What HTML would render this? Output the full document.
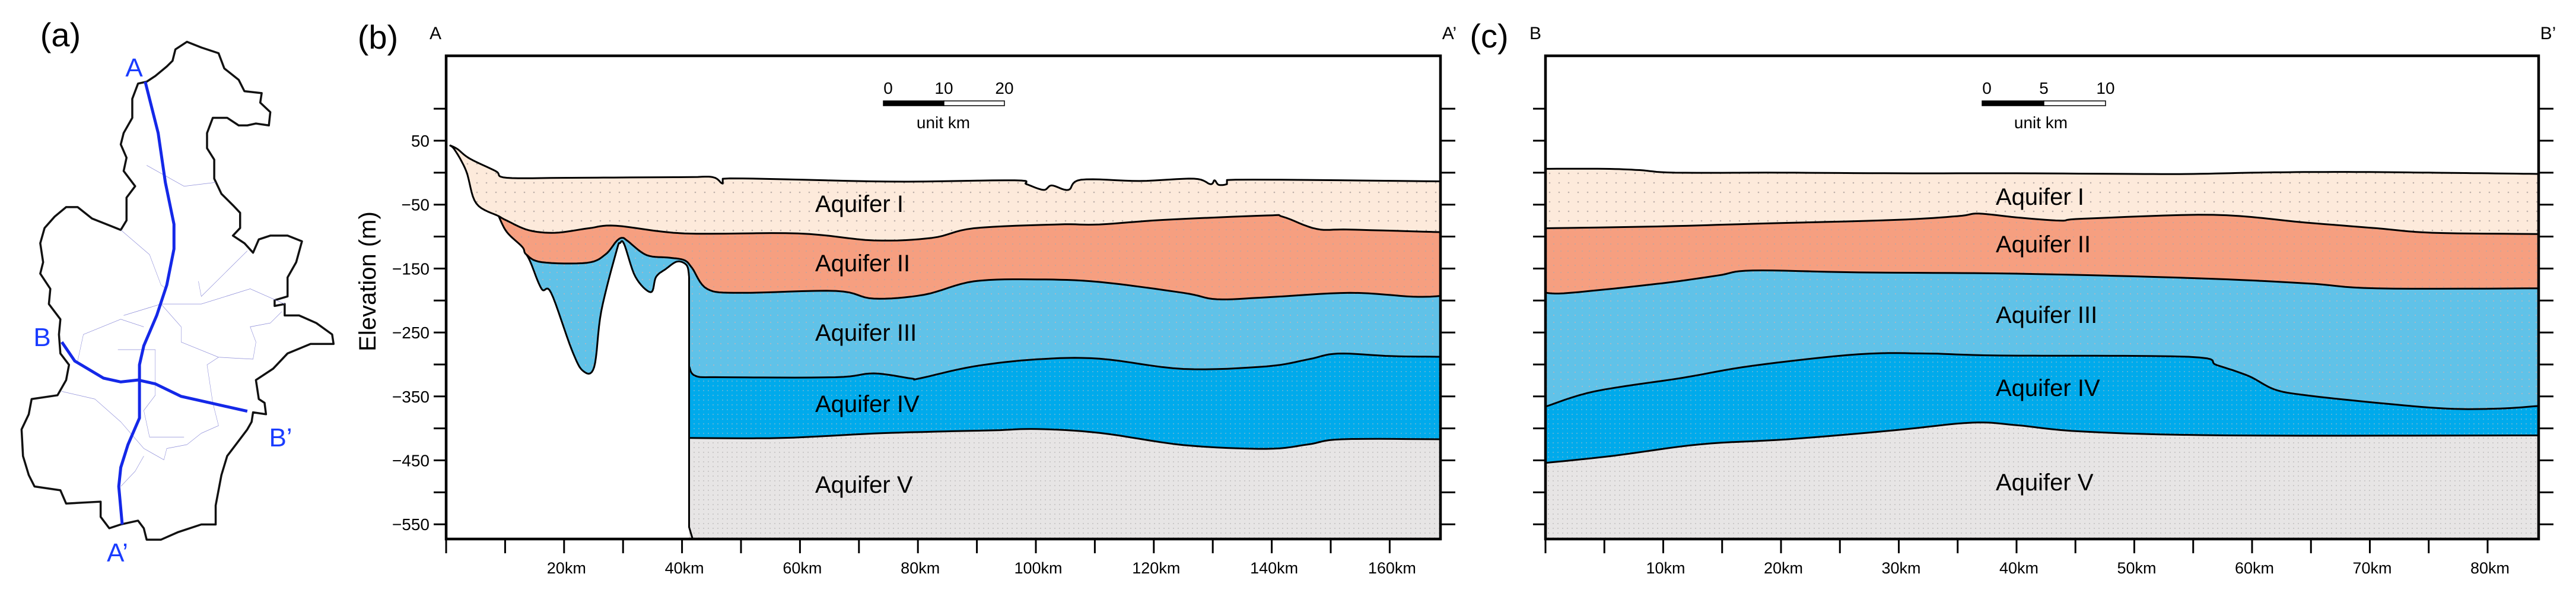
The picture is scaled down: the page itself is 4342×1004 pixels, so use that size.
<!DOCTYPE html>
<html><head><meta charset="utf-8"><style>
html,body{margin:0;padding:0;background:#fff;}
svg{display:block;font-family:"Liberation Sans",Arial,sans-serif;}
</style></head><body>
<svg id="fig" width="4342" height="1004" viewBox="0 0 4342 1004" xmlns="http://www.w3.org/2000/svg">
<defs>
<pattern id="d1" width="16" height="16" patternUnits="userSpaceOnUse"><rect width="16" height="16" fill="#fdeadb"/><circle cx="4" cy="4" r="1.3" fill="#bdb0aa"/></pattern>
<pattern id="d2" width="12" height="12" patternUnits="userSpaceOnUse"><rect width="12" height="12" fill="#f69f80"/><circle cx="3" cy="3" r="1.1" fill="#c9a59a"/></pattern>
<pattern id="d3" width="12" height="12" patternUnits="userSpaceOnUse"><rect width="12" height="12" fill="#60c2e8"/><circle cx="3" cy="3" r="1.1" fill="#a9b8c4"/></pattern>
<pattern id="d4" width="8" height="8" patternUnits="userSpaceOnUse"><rect width="8" height="8" fill="#00aaeb"/><circle cx="2" cy="2" r="0.9" fill="#8cbcd0"/></pattern>
<pattern id="d5" width="8" height="8" patternUnits="userSpaceOnUse"><rect width="8" height="8" fill="#e7e5e5"/><circle cx="2" cy="2" r="1" fill="#c2c0c0"/></pattern>
</defs>

<!-- Panel (a) map -->
<g>
<text x="102" y="78" font-size="56" text-anchor="middle">(a)</text>
<g transform="scale(0.4847,0.6402)">
<path fill="none" stroke="#111" stroke-width="3.5" vector-effect="non-scaling-stroke" stroke-linejoin="round"
d="M610,130 L650,110 L700,125 L760,140 L780,180 L830,210 L850,240 L910,245 L905,270 L940,295 L935,330 L890,325 L860,330 L830,330 L790,310 L740,310 L720,350 L720,390 L745,420 L745,470 L770,510 L810,540 L835,560 L835,600 L810,620 L850,640 L880,665 L900,630 L940,620 L1000,620 L1050,635 L1030,690 L1000,730 L1000,780 L955,790 L955,805 L990,800 L990,830 L1040,830 L1100,850 L1155,880 L1160,905 L1080,905 L1000,930 L950,970 L890,1000 L900,1050 L920,1060 L925,1090 L880,1085 L875,1110 L860,1130 L830,1160 L790,1200 L770,1250 L750,1330 L750,1380 L700,1380 L620,1400 L560,1420 L510,1420 L500,1390 L480,1370 L420,1380 L380,1390 L350,1360 L350,1320 L230,1325 L210,1290 L120,1280 L100,1250 L80,1200 L75,1130 L100,1090 L110,1050 L200,1040 L230,1000 L240,960 L210,930 L205,880 L210,840 L170,800 L175,760 L140,720 L150,690 L140,640 L155,600 L190,570 L230,545 L270,545 L320,575 L420,605 L440,580 L440,520 L470,490 L430,450 L440,415 L420,380 L430,350 L460,310 L460,260 L480,220 L510,215 L540,200 L580,175 L600,160 Z"/>
<g fill="none" stroke="#8c8cd8" stroke-width="1.2" vector-effect="non-scaling-stroke">
<path d="M420,605 L520,670 L560,750 L578,760"/>
<path d="M510,435 L640,490 L750,480"/>
<path d="M690,740 L700,780 L860,660"/>
<path d="M430,830 L560,800 L700,800 L870,760 L990,800"/>
<path d="M560,800 L630,860 L630,900 L760,940 L880,945 L890,900 L870,860 L940,850 L980,820"/>
<path d="M270,950 L290,880 L420,840 L500,860"/>
<path d="M215,1030 L330,1050 L420,1110 L500,1180 L570,1210 L580,1180 L650,1170 L700,1140 L760,1120 L740,1060 L720,960 L760,940"/>
<path d="M410,920 L540,920 L540,1040 L500,1080 L520,1150 L640,1150"/>
<path d="M420,1280 L470,1240 L500,1200"/>
</g>
<path fill="none" stroke="#1428e8" stroke-width="5" vector-effect="non-scaling-stroke" d="M505,215 L550,350 L575,480 L605,590 L605,655 L580,750 L545,830 L500,910 L485,960 L485,1100 L445,1170 L420,1230 L413,1280 L425,1380"/>
<path fill="none" stroke="#1428e8" stroke-width="5" vector-effect="non-scaling-stroke" d="M215,900 L260,950 L360,995 L420,1005 L480,1000 L540,1010 L630,1043 L730,1060 L860,1082"/>
</g>
<g fill="#1a3cff" font-size="44" text-anchor="middle">
<text x="226" y="129">A</text>
<text x="71" y="583">B</text>
<text x="473" y="752">B’</text>
<text x="198" y="946">A’</text>
</g>
</g>

<g id="pb"></g>
<g id="pc"></g>
</svg>
<script>
// ===== Panel (b) section A–A' data (km, elevation m) =====
const bSurfKm = [0.6,1.9,4,8.4,10.3,21.2,40.4,45.2,46.9,48.1,75.3,96.4,98.4,101.3,102.7,105.5,107.7,117.6,126.8,129.6,130.3,131,132.4,133.8,168.6];
const bSurfE  = [43,37,22,2.5,-8,-8,-7,-7,-17,-9,-14,-12,-18,-27,-20,-27,-11,-13,-9.4,-18,-12,-19,-18,-11,-13.6];
const bBase1Km = [0.6,1.5,3.4,5.1,8.9,10.3,14.0,18.5,24.2,28.8,40.4,59.7,72.5,82.4,89.5,103.7,110.8,121.5,139.1,141.9,147.6,153.3,168.6];
const bBase1E  = [43,35,2.5,-48,-68,-75,-90,-94,-87,-83,-95,-95,-106,-102,-87,-81,-81,-74,-67,-69,-88,-89,-93];
const bBase2Km = [8.9,10.3,12.9,13.6,16.2,23.9,27.0,28.9,29.9,30.8,34.0,37.9,40.4,41.7,44.3,50.0,66.1,72.5,81,89.5,100.2,110.8,125,130.7,139.1,153.3,163.9,168.6];
const bBase2E  = [-68,-93,-116,-128,-140,-141,-128,-107,-102,-107,-129,-133,-137,-149,-182,-188,-185,-197,-191,-170,-167,-171,-188,-198,-195,-188,-194,-193];
const bPocketKm = [13.6,14.3,16.2,17.8,21.3,23.2,25.1,26.3,28.9,29.5,30.2,32.1,34.7,35.6,37.2,39.2,40.8,41.2];
const bPocketE  = [-128,-140,-182,-188,-277,-310,-304,-217,-122,-110,-112,-163,-187,-163,-151,-139,-145,-163];
const bBase3Km = [41.2,42.3,46.9,66,72.5,78.9,80.2,89.5,100.2,110.8,125,139.1,146.2,151.2,160.4,168.6];
const bBase3E  = [-303,-318,-320,-320,-314,-322,-322,-303,-292,-291,-307,-303,-292,-283,-287,-288];
const bBase4Km = [41.2,56.9,72.5,83.3,93,100.2,110.8,125,139.1,146.2,151.9,168.6];
const bBase4E  = [-415,-415,-408,-405,-403,-401,-407,-426,-432,-425,-417,-417];
const bXTicks = [0,10,20,30,40,50,60,70,80,90,100,110,120,130,140,150,160];
const bXLabels = [20,40,60,80,100,120,140,160];
const yTicks = [100,50,0,-50,-100,-150,-200,-250,-300,-350,-400,-450,-500,-550];
const yLabels = [50,-50,-150,-250,-350,-450,-550];

// ===== Panel (c) section B–B' data =====
const cSurfKm = [0,5,8,11,20,30,40,50,55,60,65,70,75,80,84.3];
const cSurfE  = [6,6,4,0,0,-1,-1,-2,-2,0,1,1,0,-1,-2];
const cB1Km = [0,10,17.6,29.6,35,36.8,40,43.7,45.7,56.7,64.5,70.6,75.3,84.3];
const cB1E  = [-87,-84,-80,-74,-68,-64,-70,-75,-72,-66,-78,-87,-94,-96];
const cB2Km = [0,2.1,9.9,14.6,17.6,26.6,40,55.1,64.5,70.6,84.3];
const cB2E  = [-188,-188,-173,-161,-153,-156,-158,-165,-173,-181,-181];
const cB3Km = [0,4.2,11.6,17.6,26.6,32.6,38.5,54.6,57,59.7,61.9,64.5,70.6,76.5,81,84.3];
const cB3E  = [-366,-342,-321,-302,-284,-283,-286,-288,-301,-318,-339,-348,-360,-369,-369,-365];
const cB4Km = [0,5.7,13.1,20.6,29.6,36.2,40,45.7,58,84.3];
const cB4E  = [-454,-443,-425,-417,-403,-391,-395,-405,-411,-411];
const cXTicks = [0,5,10,15,20,25,30,35,40,45,50,55,60,65,70,75,80];
const cXLabels = [10,20,30,40,50,60,70,80];
const layerNames = ['Aquifer I','Aquifer II','Aquifer III','Aquifer IV','Aquifer V'];

const NS='http://www.w3.org/2000/svg';
const TOP=94, BOT=908;
const yS = e => 237 + (50 - e) * 1.077;
const xB = k => 752 + k * 9.94;
const xC = k => 2605 + k * 19.85;

function mk(parent, tag, attrs){ const el=document.createElementNS(NS,tag); for(const k in attrs) el.setAttribute(k,attrs[k]); parent.appendChild(el); return el; }
function smooth(p){
  if(p.length<3) return p;
  const out=[p[0]];
  for(let i=0;i<p.length-1;i++){
    const p0=p[Math.max(0,i-1)], p1=p[i], p2=p[i+1], p3=p[Math.min(p.length-1,i+2)];
    const n=8;
    for(let j=1;j<=n;j++){
      const t=j/n, t2=t*t, t3=t2*t;
      const f=(a,b,c,d)=>0.5*((2*b)+(-a+c)*t+(2*a-5*b+4*c-d)*t2+(-a+3*b-3*c+d)*t3);
      let x=f(p0[0],p1[0],p2[0],p3[0]);
      // keep x monotone within segment
      x=Math.min(Math.max(x,Math.min(p1[0],p2[0])),Math.max(p1[0],p2[0]));
      out.push([x, f(p0[1],p1[1],p2[1],p3[1])]);
    }
  }
  return out;
}
function pts(xf, ks, es){ return smooth(ks.map((k,i)=>[xf(k), yS(es[i])])); }
function pstr(p){ return p.map(q=>q[0].toFixed(1)+','+q[1].toFixed(1)).join(' '); }
function clip(ks, es, lo, hi){ const K=[],E=[]; ks.forEach((k,i)=>{ if(k>=lo-1e-9 && k<=hi+1e-9){K.push(k);E.push(es[i]);} }); return [K,E]; }

function poly(g, p, fill, name){
  const el = mk(g,'polygon',{points:pstr(p), fill:fill, stroke:'none'});
  
  
}
function line(g, p, name){
  const el = mk(g,'polyline',{points:pstr(p), fill:'none', stroke:'#000', 'stroke-width':3, 'stroke-linejoin':'round'});
  
  
}
function txt(g, x, y, s, size, anchor, name){
  const el = mk(g,'text',{x:x, y:y, 'font-size':size, 'text-anchor':anchor||'start'});
  el.textContent = s;
  
  
  return el;
}

function axes(g, x0, x1, xf, xt, xl, showYLabels){
  const fr = mk(g,'rect',{x:x0, y:TOP, width:x1-x0, height:BOT-TOP, fill:'none', stroke:'#000','stroke-width':4.5});
  
  
  yTicks.forEach(v=>{
    const y=yS(v);
    const t1 = mk(g,'line',{x1:x0-21, x2:x0, y1:y, y2:y, stroke:'#000','stroke-width':3});
    
    
    const t2 = mk(g,'line',{x1:x1, x2:x1+25, y1:y, y2:y, stroke:'#000','stroke-width':3});
    
    
  });
  if(showYLabels) yLabels.forEach(v=>{ txt(g, x0-28, yS(v)+10, String(v).replace('-','−'), 28, 'end', 'y-tick-label'); });
  xt.forEach(k=>{
    const t = mk(g,'line',{x1:xf(k), x2:xf(k), y1:BOT, y2:BOT+24, stroke:'#000','stroke-width':3});
    
    
  });
  xl.forEach(k=>{ txt(g, xf(k)+4, 966, k+'km', 27, 'middle', 'x-tick-label'); });
}

function scaleBar(g, x0, w, labels, cx){
  const b1 = mk(g,'rect',{x:x0, y:170, width:w, height:8, fill:'#000', stroke:'#000','stroke-width':1.5});
  
  
  const b2 = mk(g,'rect',{x:x0+w, y:170, width:w, height:8, fill:'#fff', stroke:'#000','stroke-width':1.5});
  
  
  txt(g, x0+8, 158, labels[0], 28, 'middle', 'scale-label');
  txt(g, x0+w, 158, labels[1], 28, 'middle', 'scale-label');
  txt(g, x0+2*w, 158, labels[2], 28, 'middle', 'scale-label');
  txt(g, cx, 216, 'unit km', 28, 'middle', 'scale-unit-label');
}

// ---- Panel b ----
(function(){
  const g = document.getElementById('pb');
  const R = 168.6;
  const surf = pts(xB, bSurfKm, bSurfE);
  const b1 = pts(xB, bBase1Km, bBase1E);
  const b2 = pts(xB, bBase2Km, bBase2E);
  const pk = pts(xB, bPocketKm, bPocketE);
  const b3 = pts(xB, bBase3Km, bBase3E);
  const b4 = pts(xB, bBase4Km, bBase4E);
  const xv = xB(41.2);
  poly(g, surf.concat(b1.slice().reverse()), 'url(#d1)', 'aquifer-i-area');
  const [k1,e1] = clip(bBase1Km,bBase1E,8.9,R);
  poly(g, pts(xB,k1,e1).concat(b2.slice().reverse()), 'url(#d2)', 'aquifer-ii-area');
  const [k2,e2] = clip(bBase2Km,bBase2E,13.6,R);
  poly(g, pts(xB,k2,e2).concat(b3.slice().reverse()).concat(pk.slice().reverse()), 'url(#d3)', 'aquifer-iii-area');
  poly(g, b3.concat(b4.slice().reverse()), 'url(#d4)', 'aquifer-iv-area');
  poly(g, b4.concat([[xB(R),BOT],[xv,BOT]]), 'url(#d5)', 'aquifer-v-area');
  line(g, surf, 'surface-line');
  line(g, b1, 'boundary-i-ii');
  line(g, b2, 'boundary-ii-iii');
  line(g, pk, 'boundary-iii-west');
  line(g, b3, 'boundary-iii-iv');
  line(g, b4, 'boundary-iv-v');
  line(g, [[xv,yS(-163)],[xv,BOT-20],[xv+6,BOT]], 'fault-line');
  axes(g, 752, 2428, xB, bXTicks, bXLabels, true);
  scaleBar(g, 1489, 102, ['0','10','20'], 1590);
  const lx = 1374;
  const ly = [357,457,574,694,830];
  layerNames.forEach((n,i)=> txt(g, lx, ly[i], n, 40, 'start', 'aquifer-label-'+(i+1)));
  txt(g, 637, 82, '(b)', 56, 'middle', 'panel-b-label');
  txt(g, 734, 66, 'A', 30, 'middle', 'section-start-label');
  txt(g, 2443, 66, 'A’', 30, 'middle', 'section-end-label');
  const yl = txt(g, 0, 0, 'Elevation (m)', 40, 'middle', 'y-axis-title');
  yl.setAttribute('transform','translate(633,474) rotate(-90)');
})();

// ---- Panel c ----
(function(){
  const g = document.getElementById('pc');
  const s = pts(xC, cSurfKm, cSurfE), a = pts(xC, cB1Km, cB1E), b = pts(xC, cB2Km, cB2E), c = pts(xC, cB3Km, cB3E), d = pts(xC, cB4Km, cB4E);
  poly(g, s.concat(a.slice().reverse()), 'url(#d1)', 'aquifer-i-area');
  poly(g, a.concat(b.slice().reverse()), 'url(#d2)', 'aquifer-ii-area');
  poly(g, b.concat(c.slice().reverse()), 'url(#d3)', 'aquifer-iii-area');
  poly(g, c.concat(d.slice().reverse()), 'url(#d4)', 'aquifer-iv-area');
  poly(g, d.concat([[xC(84.3),BOT],[xC(0),BOT]]), 'url(#d5)', 'aquifer-v-area');
  line(g, s, 'surface-line');
  line(g, a, 'boundary-i-ii');
  line(g, b, 'boundary-ii-iii');
  line(g, c, 'boundary-iii-iv');
  line(g, d, 'boundary-iv-v');
  axes(g, 2605, 4279, xC, cXTicks, cXLabels, false);
  scaleBar(g, 3341, 104, ['0','5','10'], 3440);
  const lx = 3364;
  const ly = [345,425,544,667,826];
  layerNames.forEach((n,i)=> txt(g, lx, ly[i], n, 40, 'start', 'aquifer-label-'+(i+1)));
  txt(g, 2510, 80, '(c)', 56, 'middle', 'panel-c-label');
  txt(g, 2588, 66, 'B', 30, 'middle', 'section-start-label');
  txt(g, 4295, 66, 'B’', 30, 'middle', 'section-end-label');
})();
</script>
</body></html>
